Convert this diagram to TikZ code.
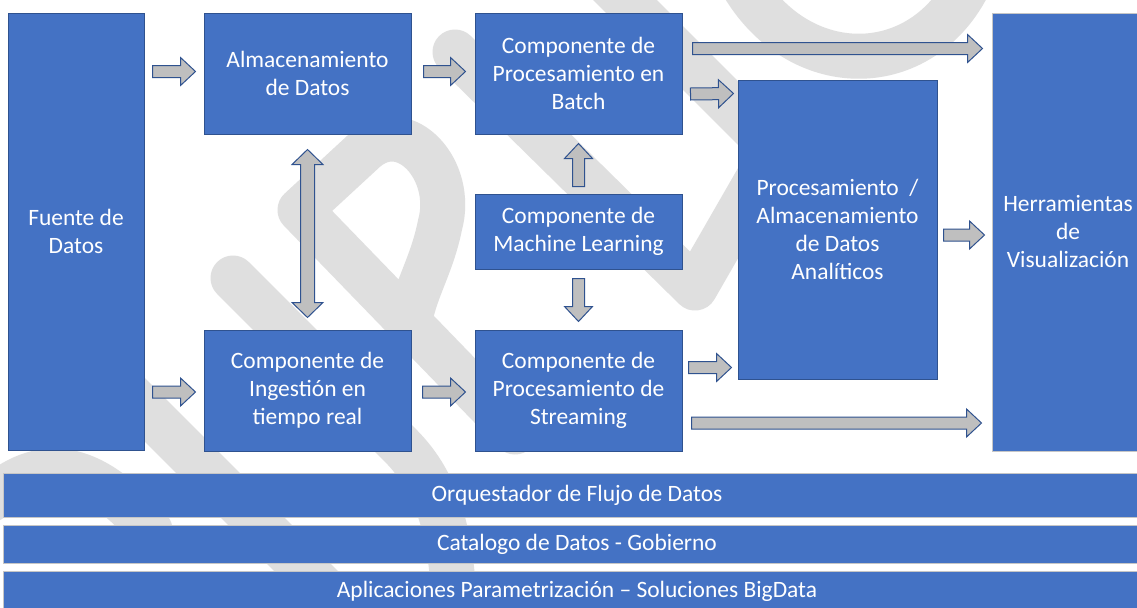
\documentclass[tikz,border=0pt]{standalone}
\usepackage{fontspec}
\setmainfont{Carlito}
\usetikzlibrary{calc}
\definecolor{boxblue}{HTML}{4472C4}
\definecolor{boxline}{HTML}{2F528F}
\definecolor{arrowgray}{HTML}{BFBFBF}
\definecolor{markgray}{HTML}{DFDFDF}
\newcommand{\blockarrow}[2]{%
\path (#1) coordinate (ba) (#2) coordinate (bb);
\path ($(bb)!11.25pt!(ba)$) coordinate (bh);
\draw[arrowbox] ($(ba)!4.5pt!90:(bb)$) -- ($(bh)!4.5pt!-90:(ba)$) -- ($(bh)!10.5pt!-90:(ba)$) -- (bb)
  -- ($(bh)!10.5pt!90:(ba)$) -- ($(bh)!4.5pt!90:(ba)$) -- ($(ba)!4.5pt!-90:(bb)$) -- cycle;}
\newcommand{\doublearrow}[2]{%
\path (#1) coordinate (ba) (#2) coordinate (bb);
\path ($(ba)!11.25pt!(bb)$) coordinate (ha) ($(bb)!11.25pt!(ba)$) coordinate (hb);
\draw[arrowbox] (ba) -- ($(ha)!11.6pt!90:(bb)$) -- ($(ha)!5.25pt!90:(bb)$) -- ($(hb)!5.25pt!-90:(ba)$)
  -- ($(hb)!11.6pt!-90:(ba)$) -- (bb) -- ($(hb)!11.6pt!90:(ba)$) -- ($(hb)!5.25pt!90:(ba)$)
  -- ($(ha)!5.25pt!-90:(bb)$) -- ($(ha)!11.6pt!-90:(bb)$) -- cycle;}
\begin{document}
\begin{tikzpicture}[x=0.75pt, y=-0.75pt,
  box/.style={draw=boxline, line width=0.75pt, fill=boxblue, text=white, align=center,
    inner sep=0pt, font=\fontsize{17.6}{21}\selectfont},
  bar/.style={box, draw=gray!45, minimum width=861pt},
  arrowbox/.style={draw=boxline, line width=0.75pt, fill=arrowgray, line join=miter},
  wmark/.style={draw=markgray, line width=33.75pt, line cap=round, line join=round}]
\useasboundingbox (0,0) rectangle (1137,607);
\fill[white] (0,0) rectangle (1137,607);
% watermark
\draw[wmark] (455,52) -- (695,288) -- (760,175);
\draw[wmark] (600,-25) -- (760,135);
\draw[wmark] (735,-30) .. controls (790,85) and (930,85) .. (975,-30);
\draw[wmark] (515,432) -- (300,210) -- (365,150) .. controls (405,115) and (455,170) .. (440,225)
  .. controls (432,265) and (415,290) .. (410,320);
\draw[wmark] (233,278) -- (400,445) .. controls (440,485) and (455,540) .. (455,640);
\draw[wmark] (40,305) -- (380,645);
\draw[wmark] (-10,500) .. controls (40,455) and (90,460) .. (150,530);
% blocks
\node[box, minimum width=102pt, minimum height=327.75pt] (fuente) at (76,231.5) {Fuente de\\Datos};
\node[box, minimum width=155.25pt, minimum height=90.75pt] (almac) at (307.5,73.5) {Almacenamiento\\de Datos};
\node[box, minimum width=155.25pt, minimum height=90.75pt] (batch) at (578.5,73.5) {Componente de\\Procesamiento en\\Batch};
\node[box, minimum width=155.25pt, minimum height=56.25pt] (ml) at (578.5,231.5) {Componente de\\Machine Learning};
\node[box, minimum width=155.25pt, minimum height=90.75pt] (ingest) at (307.5,390.5) {Componente de\\Ingestión en\\tiempo real};
\node[box, minimum width=155.25pt, minimum height=90.75pt] (stream) at (578.5,390.5) {Componente de\\Procesamiento de\\Streaming};
\node[box, minimum width=149.25pt, minimum height=224.25pt] (anal) at (837.5,229.5) {Procesamiento\ \ /\\Almacenamiento\\de Datos\\Analíticos};
\node[box, draw=gray!45, minimum width=114pt, minimum height=328.5pt] (herr) at (1068,232) {Herramientas\\de\\Visualización};
\node[bar, minimum height=33pt] (orq) at (577,495) {Orquestador de Flujo de Datos};
\node[bar, minimum height=28.5pt] (cat) at (577,544) {Catalogo de Datos - Gobierno};
\node[bar, minimum height=30pt] (apps) at (577,591) {Aplicaciones Parametrización – Soluciones BigData};
% flows
\blockarrow{$(fuente.east |- almac.west)+(8,-2)$}{$(almac.west)+(-8,-2)$}
\blockarrow{$(fuente.east |- ingest.west)+(8,1.5)$}{$(ingest.west)+(-8,1.5)$}
\blockarrow{$(almac.east)+(12,-2)$}{$(batch.west)+(-9,-2)$}
\blockarrow{$(ingest.east)+(11,1.5)$}{$(stream.west)+(-9,1.5)$}
\blockarrow{$(batch.north east)+(10,36)$}{$(herr.west |- batch.north east)+(-9,36)$}
\blockarrow{$(batch.east)+(8,20.5)$}{$(anal.north west)+(-4,14)$}
\blockarrow{$(stream.east)+(6,-23)$}{$(anal.south west)+(-6,-12)$}
\blockarrow{$(stream.east)+(9,32.5)$}{$(herr.west |- stream.east)+(-10,32.5)$}
\blockarrow{$(anal.east)+(6,5.5)$}{$(herr.west |- anal.east)+(-7,5.5)$}
\blockarrow{$(ml.north)+(0,-7)$}{$(batch.south)+(0,9)$}
\blockarrow{$(ml.south)+(0,9)$}{$(stream.north)+(0,-8)$}
\doublearrow{$(almac.south)+(0,15)$}{$(ingest.north)+(0,-12)$}
\end{tikzpicture}
\end{document}
